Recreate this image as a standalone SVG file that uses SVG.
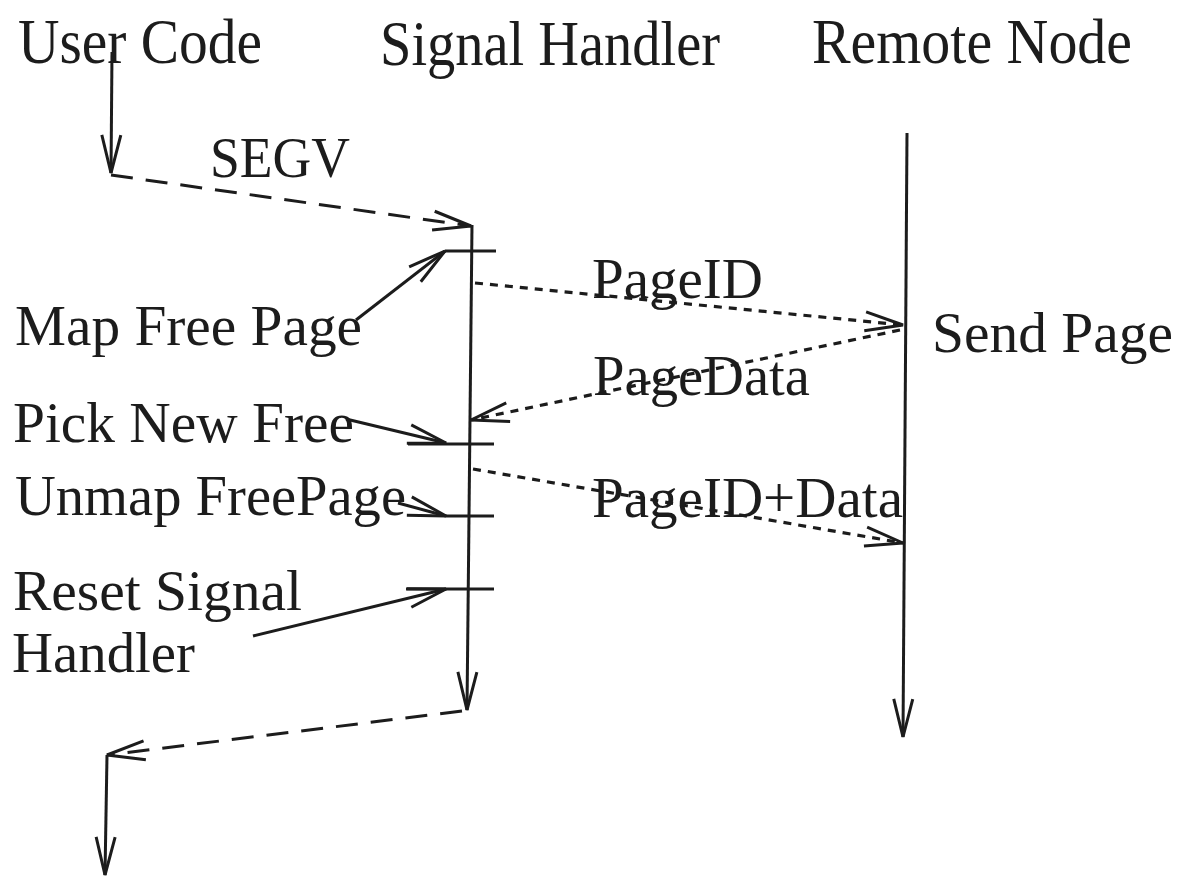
<svg xmlns="http://www.w3.org/2000/svg" width="1192" height="876" viewBox="0 0 1192 876">
  <style>
    text { font-family: "Liberation Serif", "Times New Roman", serif; fill: #1c1c1c; }
    .head { font-size: 64px; }
    .lbl { font-size: 57px; }
    .solid { stroke: #1c1c1c; stroke-width: 3; fill: none; }
    .dash { stroke: #1c1c1c; stroke-width: 3; fill: none; stroke-dasharray: 22 13; }
    .dot { stroke: #1c1c1c; stroke-width: 3.2; fill: none; stroke-dasharray: 8 7; }
    .tick { stroke: #1c1c1c; stroke-width: 3; }
  </style>
  <defs>
    <marker id="open" markerUnits="userSpaceOnUse" viewBox="-42 -14 46 28" refX="0" refY="0" markerWidth="46" markerHeight="28" orient="auto" overflow="visible">
      <path d="M-38,-9.5 L0,0 L-38,9.5" fill="none" stroke="#1c1c1c" stroke-width="3" stroke-linejoin="miter"/>
    </marker>
  </defs>
  <rect width="1192" height="876" fill="#ffffff"/>

  <!-- lifeline: user code -->
  <g id="user-code">
    <text class="head" x="18" y="63" textLength="244" lengthAdjust="spacingAndGlyphs">User Code</text>
  </g>

  <!-- lifeline: signal handler, with its step ticks -->
  <g id="signal-handler">
    <text class="head" x="380" y="65" textLength="340" lengthAdjust="spacingAndGlyphs">Signal Handler</text>
    <line class="tick" x1="445" y1="251" x2="496" y2="251"/>
    <line class="tick" x1="408" y1="444" x2="494" y2="444"/>
    <line class="tick" x1="446" y1="516" x2="494" y2="516"/>
    <line class="tick" x1="406" y1="589" x2="494" y2="589"/>
  </g>

  <!-- lifeline: remote node -->
  <g id="remote-node">
    <text class="head" x="812" y="63" textLength="320" lengthAdjust="spacingAndGlyphs">Remote Node</text>
    <text class="lbl" x="932" y="352" textLength="241" lengthAdjust="spacingAndGlyphs">Send Page</text>
  </g>

  <!-- step labels on the left -->
  <g id="map-free-page"><text class="lbl" x="15" y="345" textLength="347" lengthAdjust="spacingAndGlyphs">Map Free Page</text></g>
  <g id="pick-new-free"><text class="lbl" x="13" y="442" textLength="341" lengthAdjust="spacingAndGlyphs">Pick New Free</text></g>
  <g id="unmap-free-page"><text class="lbl" x="15" y="515" textLength="391" lengthAdjust="spacingAndGlyphs">Unmap FreePage</text></g>
  <g id="reset-signal-handler">
    <text class="lbl" x="13" y="610" textLength="289" lengthAdjust="spacingAndGlyphs">Reset Signal</text>
    <text class="lbl" x="12" y="672" textLength="183" lengthAdjust="spacingAndGlyphs">Handler</text>
  </g>

  <!-- message labels -->
  <g id="msg-labels">
    <text class="lbl" x="210" y="177" textLength="140" lengthAdjust="spacingAndGlyphs">SEGV</text>
    <text class="lbl" x="592" y="298" textLength="171" lengthAdjust="spacingAndGlyphs">PageID</text>
    <text class="lbl" x="593" y="395" textLength="217" lengthAdjust="spacingAndGlyphs">PageData</text>
    <text class="lbl" x="592" y="517" textLength="311" lengthAdjust="spacingAndGlyphs">PageID+Data</text>
  </g>

  <!-- connectors -->
  <g id="connectors">
    <line class="solid" x1="112" y1="52" x2="111" y2="173" marker-end="url(#open)"/>
    <line class="dash" x1="111" y1="175" x2="471" y2="226" marker-end="url(#open)"/>
    <line class="solid" x1="472" y1="225" x2="467" y2="710" marker-end="url(#open)"/>
    <line class="solid" x1="356" y1="320" x2="445" y2="251" marker-end="url(#open)"/>
    <line class="dot" x1="475" y1="283" x2="903" y2="325" marker-end="url(#open)"/>
    <line class="dot" x1="900" y1="330" x2="471" y2="420" marker-end="url(#open)"/>
    <line class="solid" x1="346" y1="419" x2="446" y2="443" marker-end="url(#open)"/>
    <line class="dot" x1="473" y1="469" x2="903" y2="543" marker-end="url(#open)"/>
    <line class="solid" x1="398" y1="503" x2="446" y2="516" marker-end="url(#open)"/>
    <line class="solid" x1="253" y1="636" x2="446" y2="589" marker-end="url(#open)"/>
    <line class="dash" x1="462" y1="711" x2="107" y2="755" marker-end="url(#open)"/>
    <line class="solid" x1="107" y1="755" x2="105" y2="875" marker-end="url(#open)"/>
    <line class="solid" x1="907" y1="133" x2="903" y2="737" marker-end="url(#open)"/>
  </g>
</svg>
